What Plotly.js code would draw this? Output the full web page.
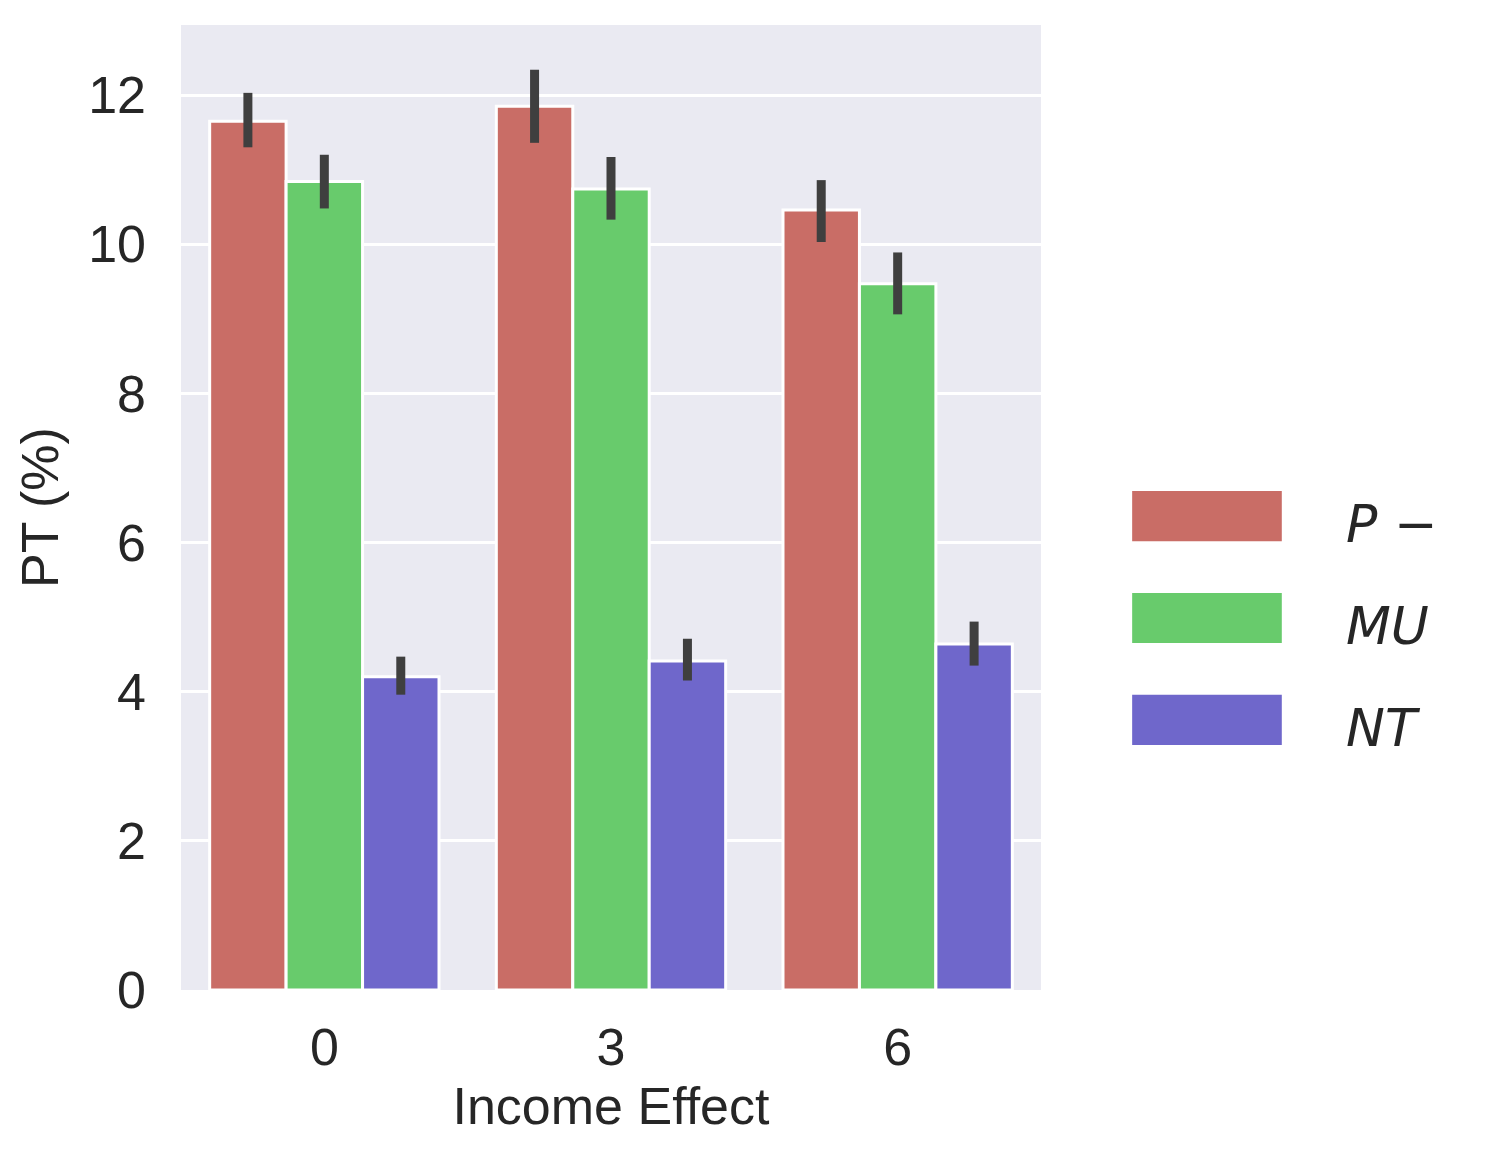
<!DOCTYPE html>
<html>
<head>
<meta charset="utf-8">
<script src="https://cdn.plot.ly/plotly-3.0.1.min.js"></script>
<style>
  html, body { margin: 0; padding: 0; background: #ffffff; }
  #chart { width: 1497px; height: 1160px; }
</style>
</head>
<body>
<div id="chart"></div>
<script>
// income effect groups
const categories = ['0', '3', '6'];

// series (mean, lower and upper end of the error bar)
const seriesNames = ['P \u2212', 'MU', 'NT'];
const seriesColors = ['#c96d66', '#68cb6c', '#6f67cb'];

const pMinusMean = [11.65, 11.85, 10.46];
const pMinusLow  = [11.30, 11.36, 10.03];
const pMinusHigh = [12.03, 12.34, 10.86];

const muMean = [10.84, 10.74, 9.47];
const muLow  = [10.48, 10.33, 9.06];
const muHigh = [11.20, 11.17, 9.89];

const ntMean = [4.20, 4.41, 4.64];
const ntLow  = [3.96, 4.15, 4.35];
const ntHigh = [4.47, 4.71, 4.94];

const yTicks = [0, 2, 4, 6, 8, 10, 12];

function makeTrace(name, color, mean, low, high) {
    return {
        x: categories,
        y: mean,
        name: name,
        type: 'bar',
        showlegend: false,
        marker: {color: color, line: {color: '#ffffff', width: 3}},
        error_y: {
            type: 'data',
            symmetric: false,
            array: high.map((h, i) => h - mean[i]),
            arrayminus: low.map((l, i) => mean[i] - l),
            width: 0,
            thickness: 9,
            color: '#3f3f3f'
        },
        hoverinfo: 'x+y+name'
    };
}

const traces = [
    makeTrace(seriesNames[0], seriesColors[0], pMinusMean, pMinusLow, pMinusHigh),
    makeTrace(seriesNames[1], seriesColors[1], muMean, muLow, muHigh),
    makeTrace(seriesNames[2], seriesColors[2], ntMean, ntLow, ntHigh)
];

// legend drawn by hand to get the large seaborn-style patches
let shapes = [];
let annotations = [];
for (let i = 0; i < seriesNames.length; i++) {
    const top = 0.517 - i * 0.1055;
    shapes.push({
        type: 'rect', xref: 'paper', yref: 'paper',
        x0: 1.106, x1: 1.280, y0: top - 0.052, y1: top,
        fillcolor: seriesColors[i], line: {width: 0}
    });
    annotations.push({
        xref: 'paper', yref: 'paper',
        x: 1.352, y: top - 0.034,
        xanchor: 'left', yanchor: 'middle',
        text: seriesNames[i], showarrow: false,
        font: {family: 'DejaVu Sans', size: 52, color: '#262626', style: 'italic'}
    });
}

const layout = {
    width: 1497,
    height: 1160,
    margin: {l: 181, r: 456, t: 25, b: 170},
    paper_bgcolor: '#ffffff',
    plot_bgcolor: '#eaeaf2',
    barmode: 'group',
    bargap: 0.2,
    bargroupgap: 0,
    font: {family: 'Liberation Sans, Arial, sans-serif', size: 52, color: '#262626'},
    xaxis: {
        type: 'category',
        range: [-0.5, 2.5],
        showgrid: false,
        zeroline: false,
        showline: false,
        ticks: '',
        ticklabelstandoff: 22,
        tickfont: {size: 52},
        title: {text: 'Income Effect', font: {size: 52}, standoff: 12}
    },
    yaxis: {
        range: [0, 12.94],
        tickvals: yTicks,
        ticktext: yTicks.map(String),
        showgrid: true,
        gridcolor: '#ffffff',
        gridwidth: 3,
        zeroline: false,
        showline: false,
        ticks: '',
        ticklabelstandoff: 34,
        tickfont: {size: 52},
        title: {text: 'PT (%)', font: {size: 52}, standoff: 12}
    },
    shapes: shapes,
    annotations: annotations
};

Plotly.newPlot('chart', traces, layout, {displayModeBar: false});
</script>
</body>
</html>
